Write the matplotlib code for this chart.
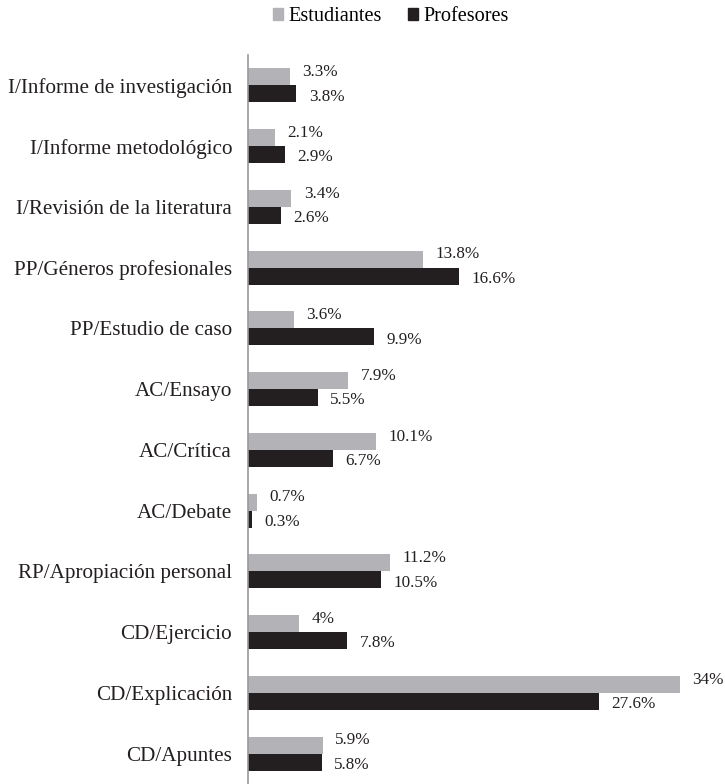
import matplotlib
matplotlib.use("Agg")
import matplotlib.pyplot as plt
from matplotlib.patches import Patch
import numpy as np

# datos del gráfico
categorias = ["I/Informe de investigación", "I/Informe metodológico",
              "I/Revisión de la literatura", "PP/Géneros profesionales",
              "PP/Estudio de caso", "AC/Ensayo", "AC/Crítica", "AC/Debate",
              "RP/Apropiación personal", "CD/Ejercicio", "CD/Explicación",
              "CD/Apuntes"]
estudiantes = [3.3, 2.1, 3.4, 13.8, 3.6, 7.9, 10.1, 0.7, 11.2, 4, 34, 5.9]
profesores = [3.8, 2.9, 2.6, 16.6, 9.9, 5.5, 6.7, 0.3, 10.5, 7.8, 27.6, 5.8]
series = ["Estudiantes", "Profesores"]

gris = "#b3b3b7"
negro = "#231f20"

plt.rcParams["font.family"] = ["Liberation Serif", "DejaVu Serif"]

fig = plt.figure(figsize=(7.25, 7.84), dpi=100)
ax = fig.add_axes([248 / 725, 0.0, 1 - 248 / 725, 1 - 55 / 784])

y = np.arange(len(categorias))
h = 0.28
b1 = ax.barh(y - h / 2, estudiantes, height=h, color=gris)
b2 = ax.barh(y + h / 2, profesores, height=h, color=negro)

# etiquetas de valores
for barras, dy in ((b1, 3.5), (b2, -2)):
    for b in barras:
        v = b.get_width()
        ax.annotate(f"{v:g}%", (v, b.get_y() + b.get_height() / 2),
                    xytext=(9, dy), textcoords="offset points",
                    ha="left", va="center", fontsize=12.3, color="#231f20")

ax.set_ylim(len(categorias) - 0.5, -0.5)
ax.set_xlim(0, 477 / 12.7)
ax.set_yticks(y)
ax.set_yticklabels(categorias, fontsize=15.2, color="#231f20")
ax.tick_params(axis="y", length=0, pad=11.5)
ax.set_xticks([])

for s in ["top", "right", "bottom"]:
    ax.spines[s].set_visible(False)
ax.spines["left"].set_color("#999999")
ax.spines["left"].set_linewidth(1.2)

handles = [Patch(color=gris), Patch(color=negro)]
fig.legend(handles, series, loc="center", bbox_to_anchor=(0.539, 0.979),
           ncol=2, frameon=False, fontsize=14.6, handlelength=0.5,
           handleheight=0.5, handletextpad=0.25, columnspacing=1.3,
           borderpad=0)

fig.savefig("out.png", dpi=100)
